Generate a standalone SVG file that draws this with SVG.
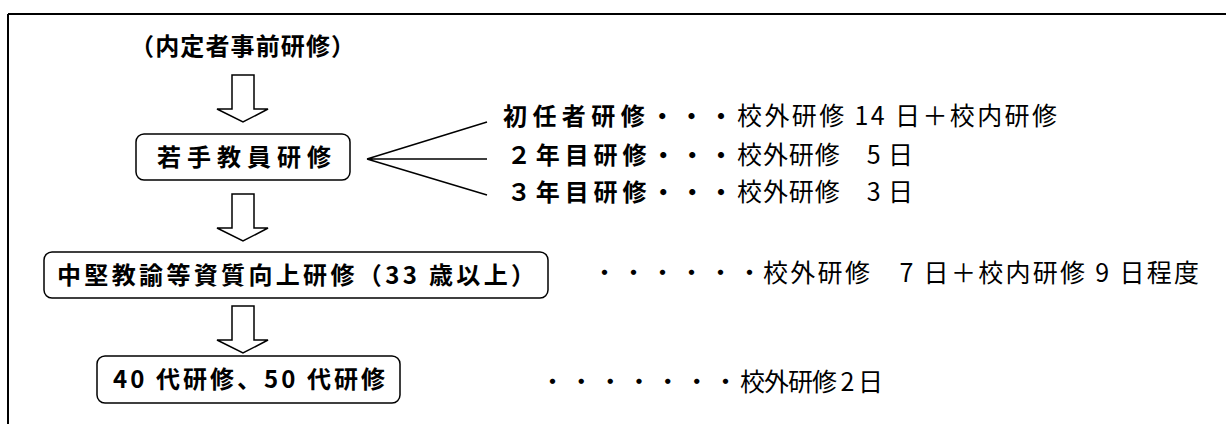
<svg xmlns="http://www.w3.org/2000/svg" width="1226" height="424" viewBox="0 0 1226 424">
<style>
.b{font-family:"Noto Sans CJK JP","Liberation Sans",sans-serif;font-weight:bold;font-size:24px;fill:#000}
.r{font-family:"Noto Sans CJK JP","Liberation Sans",sans-serif;font-weight:normal;font-size:25px;fill:#000}
.box{fill:#fff;stroke:#000;stroke-width:1.5}
.arr{fill:#fff;stroke:#000;stroke-width:1.5;stroke-linejoin:miter}
.ln{stroke:#000;stroke-width:1.5;fill:none}
</style>
<rect width="1226" height="424" fill="#fff"/>
<g id="frame">
<path d="M8,14 H1226 M8,14 V424" stroke="#000" stroke-width="2" fill="none"/>
</g>
<g id="connectors">
<path class="arr" d="M232,75 H254 V109 H268 L243,122 L217,109 H232 Z"/>
<path class="arr" d="M232,194 H254 V228 H268 L243,241 L217,228 H232 Z"/>
<path class="arr" d="M232,306 H254 V340 H268 L243,353 L217,340 H232 Z"/>
<path class="ln" d="M367,159 L487,122 M367,159 H487 M367,159 L487,195"/>
</g>
<g id="node-pre">
<text class="b" x="130" y="55" textLength="225" lengthAdjust="spacing">（内定者事前研修）</text>
</g>
<g id="node-young">
<rect class="box" x="136" y="134" width="214" height="46" rx="8"/>
<text class="b" x="157" y="166" textLength="174" lengthAdjust="spacing">若手教員研修</text>
</g>
<g id="node-r1">
<text class="b" x="503" y="125" textLength="230" lengthAdjust="spacing">初任者研修・・・</text>
<text class="r" x="737" y="125" textLength="320" lengthAdjust="spacing">校外研修 14 日＋校内研修</text>
</g>
<g id="node-r2">
<text class="b" x="507" y="164" textLength="226" lengthAdjust="spacing">２年目研修・・・</text>
<text class="r" x="737" y="164" textLength="176" lengthAdjust="spacing">校外研修　5 日</text>
</g>
<g id="node-r3">
<text class="b" x="507" y="201" textLength="226" lengthAdjust="spacing">３年目研修・・・</text>
<text class="r" x="737" y="201" textLength="176" lengthAdjust="spacing">校外研修　3 日</text>
</g>
<g id="node-mid">
<rect class="box" x="44" y="252" width="504" height="46" rx="8"/>
<text class="b" x="57" y="284" textLength="478" lengthAdjust="spacing">中堅教諭等資質向上研修（33 歳以上）</text>
</g>
<g id="node-mid-r">
<text class="r" x="592" y="282" textLength="170" lengthAdjust="spacing">・・・・・・</text>
<text class="r" x="763" y="282" textLength="436" lengthAdjust="spacing">校外研修　7 日＋校内研修 9 日程度</text>
</g>
<g id="node-40">
<rect class="box" x="97" y="356" width="303" height="47" rx="8"/>
<text class="b" x="113" y="388" textLength="272" lengthAdjust="spacing">40 代研修、50 代研修</text>
</g>
<g id="node-40-r">
<text class="r" x="540" y="391" textLength="198" lengthAdjust="spacing">・・・・・・・</text>
<text class="r" x="740" y="391" textLength="143" lengthAdjust="spacing">校外研修 2 日</text>
</g>
</svg>
